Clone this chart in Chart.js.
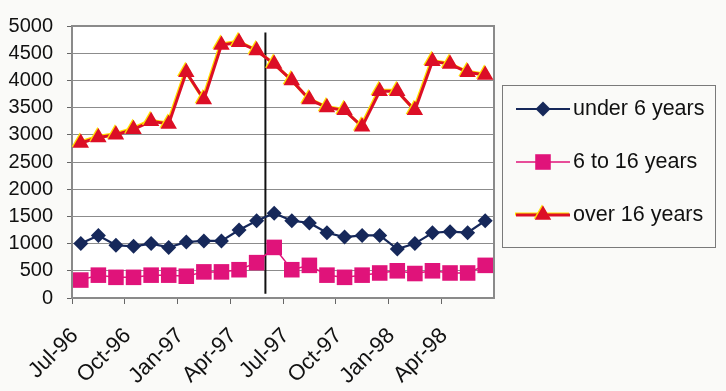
<!DOCTYPE html>
<html>
<head>
<meta charset="utf-8">
<script src="https://cdn.jsdelivr.net/npm/chart.js@4/dist/chart.umd.min.js"></script>
<style>
  html, body { margin: 0; padding: 0; background: #fafaf8; }
  #wrap { width: 726px; height: 391px; }
</style>
</head>
<body>
<div id="wrap"><canvas id="c" width="726" height="391"></canvas></div>
<script>
// Monthly categories, Jul-96 to Jun-98
const months = ['Jul-96','Aug-96','Sep-96','Oct-96','Nov-96','Dec-96',
                'Jan-97','Feb-97','Mar-97','Apr-97','May-97','Jun-97',
                'Jul-97','Aug-97','Sep-97','Oct-97','Nov-97','Dec-97',
                'Jan-98','Feb-98','Mar-98','Apr-98','May-98','Jun-98'];

const under6 = [1000,1150,970,950,1000,930,1030,1050,1050,1250,1420,1560,
                1420,1380,1200,1120,1150,1150,900,1000,1200,1220,1200,1420];
const sixTo16 = [330,420,380,380,420,420,400,480,480,520,650,930,
                 520,600,420,380,420,460,500,450,500,460,460,600];
const over16 = [2850,2950,3000,3100,3250,3200,4150,3650,4650,4700,4550,4300,
                4000,3650,3500,3450,3150,3800,3800,3450,4350,4300,4150,4100];

const seriesNames = ['under 6 years', '6 to 16 years', 'over 16 years'];
const yTicks = [0,500,1000,1500,2000,2500,3000,3500,4000,4500,5000];
const dividerAfter = 'May-97';   // vertical marker between May-97 and Jun-97

const FONT = "'Liberation Sans', Arial, sans-serif";
const NAVY = '#16285a', PINK = '#e0137a', RED = '#dc0e26', HALO = '#ffe000';

function drawMarker(ctx, style, x, y, r, color) {
  ctx.fillStyle = color;
  ctx.beginPath();
  if (style === 'rectRot') {
    ctx.moveTo(x, y - r); ctx.lineTo(x + r, y); ctx.lineTo(x, y + r); ctx.lineTo(x - r, y);
  } else if (style === 'rect') {
    const s = r * Math.SQRT1_2;
    ctx.rect(x - s, y - s, 2 * s, 2 * s);
  } else {
    ctx.moveTo(x, y - r);
    ctx.lineTo(x + r * 0.866, y + r * 0.5);
    ctx.lineTo(x - r * 0.866, y + r * 0.5);
  }
  ctx.closePath();
  ctx.fill();
}

function halo(ctx) {
  ctx.shadowColor = HALO;
  ctx.shadowOffsetX = -1;
  ctx.shadowOffsetY = -1;
  ctx.shadowBlur = 0;
}

const decor = {
  id: 'decor',
  beforeDraw(chart) {
    const { ctx, chartArea: a } = chart;
    ctx.save();
    ctx.fillStyle = '#ffffff';
    ctx.fillRect(a.left, a.top, a.right - a.left, a.bottom - a.top);
    ctx.restore();
  },
  beforeDatasetsDraw(chart) {
    const { ctx, chartArea: a, scales } = chart;
    ctx.save();
    // plot frame
    ctx.strokeStyle = '#8a8a8a';
    ctx.lineWidth = 2;
    ctx.strokeRect(a.left, a.top, a.right - a.left, a.bottom - a.top);
    // divider line
    const xd = scales.x.getPixelForValue(months.indexOf(dividerAfter) + 0.5);
    ctx.strokeStyle = '#111';
    ctx.lineWidth = 2;
    ctx.beginPath();
    ctx.moveTo(xd, scales.y.getPixelForValue(4880));
    ctx.lineTo(xd, scales.y.getPixelForValue(80));
    ctx.stroke();
    ctx.restore();
  },
  beforeDatasetDraw(chart, args) {
    if (args.index === 2) {
      chart.ctx.save();
      halo(chart.ctx);
    }
  },
  afterDatasetDraw(chart, args) {
    if (args.index === 2) chart.ctx.restore();
  },
  afterDraw(chart) {
    const ctx = chart.ctx;
    const box = { x: 502, y: 85, w: 213, h: 162 };
    ctx.save();
    ctx.strokeStyle = '#7a7a7a';
    ctx.lineWidth = 1;
    ctx.strokeRect(box.x + 0.5, box.y + 0.5, box.w, box.h);
    const rows = [109, 162, 215];
    chart.data.datasets.forEach((ds, i) => {
      const y = rows[i];
      ctx.save();
      if (i === 2) halo(ctx);
      ctx.strokeStyle = ds.borderColor;
      ctx.lineWidth = ds.borderWidth;
      ctx.beginPath();
      ctx.moveTo(516, y); ctx.lineTo(570, y);
      ctx.stroke();
      drawMarker(ctx, ds.pointStyle, 543, y, ds.pointRadius, ds.pointBackgroundColor);
      ctx.restore();
      ctx.fillStyle = '#111';
      ctx.font = '21.5px ' + FONT;
      ctx.textBaseline = 'middle';
      ctx.textAlign = 'left';
      ctx.fillText(ds.label, 573, y);
    });
    ctx.restore();
  }
};

new Chart(document.getElementById('c'), {
  type: 'line',
  data: {
    labels: months,
    datasets: [
      { label: seriesNames[0], data: under6, borderColor: NAVY, borderWidth: 2.2,
        pointStyle: 'rectRot', pointRadius: 7.5, pointBackgroundColor: NAVY,
        pointBorderWidth: 0, tension: 0 },
      { label: seriesNames[1], data: sixTo16, borderColor: PINK, borderWidth: 1.5,
        pointStyle: 'rect', pointRadius: 11, pointBackgroundColor: PINK,
        pointBorderWidth: 0, tension: 0 },
      { label: seriesNames[2], data: over16, borderColor: RED, borderWidth: 3,
        pointStyle: 'triangle', pointRadius: 9.5, pointBackgroundColor: RED,
        pointBorderWidth: 0, tension: 0 }
    ]
  },
  options: {
    responsive: false,
    animation: false,
    events: [],
    layout: { padding: { top: 22, right: 232, left: 0, bottom: 0 } },
    plugins: { legend: { display: false }, tooltip: { enabled: false } },
    scales: {
      x: {
        offset: true,
        afterFit(s) { s.height = 93; },
        border: { display: false },
        grid: {
          offset: true,
          drawOnChartArea: false,
          tickLength: 6,
          lineWidth: 1,
          color: (c) => (c.index % 3 === 0 ? '#666' : 'rgba(0,0,0,0)')
        },
        ticks: {
          autoSkip: false,
          minRotation: 45,
          maxRotation: 45,
          padding: 19,
          labelOffset: -6,
          color: '#111',
          font: { family: FONT, size: 22 },
          callback: (v, i) => (i % 3 === 0 ? months[i] : '')
        }
      },
      y: {
        min: 0,
        max: 5000,
        afterFit(s) { s.width = 72; },
        afterBuildTicks(s) { s.ticks = yTicks.map(v => ({ value: v })); },
        border: { display: false },
        grid: { color: '#8c8c8c', lineWidth: 1, tickLength: 5, tickColor: '#666' },
        ticks: {
          padding: 14,
          color: '#111',
          font: { family: FONT, size: 20 },
          callback: (v) => String(v)
        }
      }
    }
  },
  plugins: [decor]
});
</script>
</body>
</html>
